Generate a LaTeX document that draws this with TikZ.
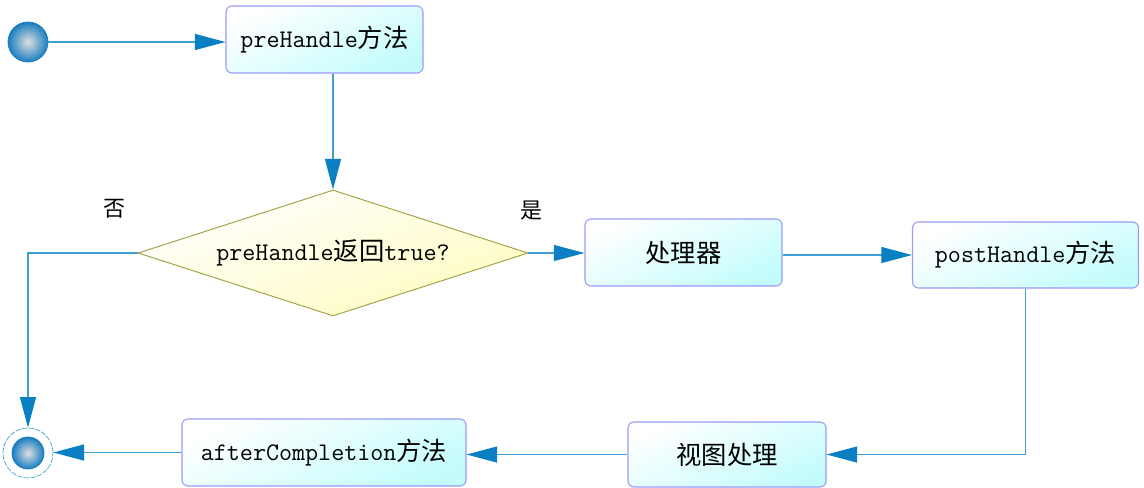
\documentclass[tikz,border=0pt]{standalone}
\usepackage{fontspec}
\setmainfont{Latin Modern Mono}
\newfontfamily\cjk{Noto Sans CJK SC}
\usetikzlibrary{arrows.meta,shapes.geometric}
\definecolor{linec}{HTML}{3F9FD0}
\definecolor{tipc}{HTML}{0A80C2}
\definecolor{boxb}{HTML}{9A9AF8}
\definecolor{boxf}{HTML}{C4FCFC}
\definecolor{diab}{HTML}{A0A040}
\definecolor{diaf}{HTML}{FFFCC0}
\definecolor{ballc}{HTML}{1A7DC0}
\tikzset{
  box/.style={draw=boxb, line width=0.8pt, rounded corners=4.5pt, shading=axis, top color=white, bottom color=boxf, shading angle=25, minimum height=50pt, inner sep=0pt, font=\fontsize{19}{22}\selectfont},
  conn/.style={draw=linec, line width=1pt, -{Triangle[length=23pt,width=12pt,fill=tipc,color=tipc]}},
  lbl/.style={font=\cjk\fontsize{16.5}{19}\selectfont, inner sep=0pt},
  ball/.style={circle, inner sep=0pt, draw=ballc, line width=0.6pt, inner color=gray!25, outer color=ballc}
}
\begin{document}
\begin{tikzpicture}[x=0.75pt,y=-0.75pt]
\useasboundingbox (0,0) rectangle (1144,487);
% start
\node[ball, minimum size=30pt] (start) at (28,42) {};
% end
\node[circle, minimum size=37.5pt, inner sep=0pt, draw=linec, dash pattern=on 4pt off 1pt, line width=0.5pt] (endc) at (28,453) {};
\node[ball, minimum size=24pt] (endi) at (28,453) {};
% boxes
\node[box, minimum width=147.75pt, minimum height=50.25pt] (pre) at (324.5,39.5) {preHandle{\cjk 方法}};
\node[box, minimum width=147.75pt, minimum height=50.25pt] (proc) at (683.5,252.5) {\cjk 处理器};
\node[box, minimum width=169.5pt, minimum height=49.5pt] (post) at (1025.5,255) {postHandle{\cjk 方法}};
\node[box, minimum width=148.5pt, minimum height=48.75pt] (view) at (727,454.5) {\cjk 视图处理};
\node[box, minimum width=213pt, minimum height=50.25pt] (after) at (324,452.5) {afterCompletion{\cjk 方法}};
% diamond
\node[diamond, aspect=3.095, draw=diab, line width=0.7pt, shading=axis, top color=white, bottom color=diaf, shading angle=20, minimum width=292.5pt, minimum height=94.5pt, inner sep=0pt, font=\fontsize{19}{22}\selectfont] (dia) at (333,253) {preHandle{\cjk 返回}true?};
% labels
\node[lbl] (no) at (114,208.5) {否};
\node[lbl] (yes) at (531,210.5) {是};
% connectors
\draw[conn] (start.east) -- (start.east -| pre.west);
\draw[conn] (dia.north |- pre.south) -- (dia.north);
\draw[conn] (dia.west) -| (endc.north);
\draw[conn] (dia.east) -- (dia.east -| proc.west);
\draw[conn] (proc.east |- post.west) -- (post.west);
\draw[conn] (post.south) |- (view.east);
\draw[conn] (view.west) -- (view.west -| after.east);
\draw[conn] (after.west) -- (after.west -| endc.east);
\end{tikzpicture}
\end{document}
